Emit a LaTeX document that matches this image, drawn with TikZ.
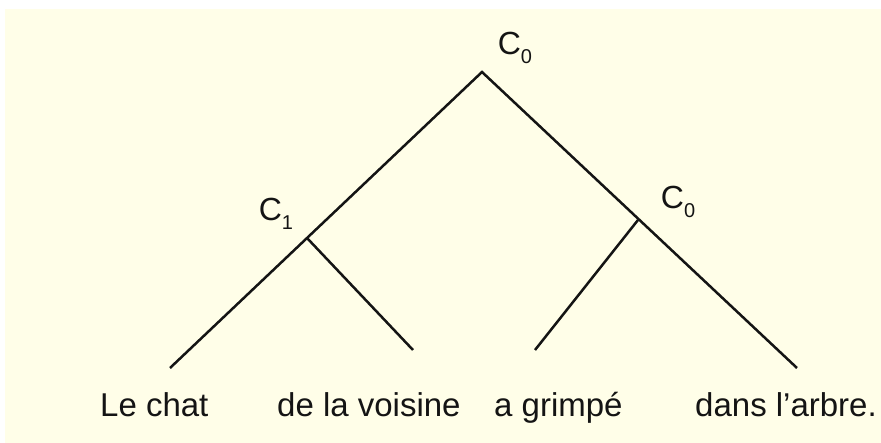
\documentclass[tikz,border=0pt]{standalone}
\usepackage{fontspec}
\setmainfont{Liberation Sans}
\usetikzlibrary{positioning}
\definecolor{paper}{RGB}{255,254,232}
\definecolor{inkblack}{RGB}{20,20,20}
\newcommand{\lowidx}[1]{\raisebox{-0.28em}{\fontsize{20}{20}\selectfont #1}}

\begin{document}
\begin{tikzpicture}[x=1pt, y=-1pt,
    branch/.style={line width=2.5pt, color=inkblack, line cap=butt},
    catlabel/.style={inner sep=0pt, font=\fontsize{32}{36}\selectfont, text=inkblack},
    word/.style={anchor=base west, inner sep=0pt, font=\fontsize{33}{40}\selectfont, text=inkblack}
]
\useasboundingbox (0,0) rectangle (881,443);
\fill[paper] (5,9) rectangle (881,443);
% tree points
\coordinate (root) at (482,72);
\coordinate (cleft) at (307,238);
\coordinate (cright) at (638,220);
\coordinate (leafa) at (170,368);
\coordinate (leafb) at (413,350);
\coordinate (leafc) at (535,350);
\coordinate (leafd) at (797,368);
% labels
\node[catlabel] (croot) at (515,48) {C\lowidx{0}};
\node[catlabel] (cone) at (276,214) {C\lowidx{1}};
\node[catlabel] (czero) at (678,202) {C\lowidx{0}};
\node[word] (chat) at (100,417) {Le chat};
\node[word] (voisine) at (277,417) {de la voisine};
\node[word] (grimpe) at (494,417) {a grimpé};
\node[word] (arbre) at (695,417) {dans l’arbre.};
% branches
\draw[branch] (leafa) -- (root) -- (leafd);
\draw[branch] (cleft) -- (leafb);
\draw[branch] (cright) -- (leafc);
\end{tikzpicture}
\end{document}
